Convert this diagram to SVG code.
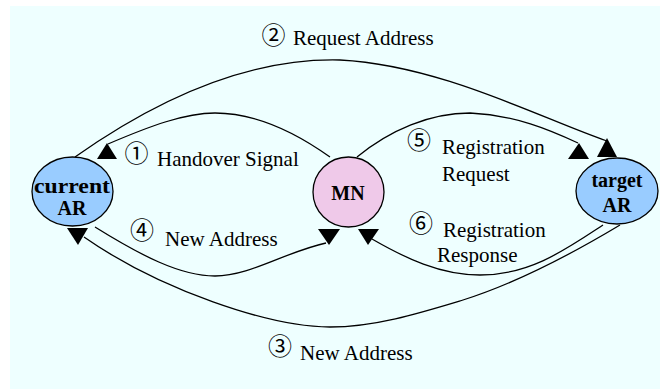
<svg xmlns="http://www.w3.org/2000/svg" width="660" height="389" viewBox="0 0 660 389">
  <style>
    .bg { fill: #EEFFFF; }
    .ar { fill: #99CCFF; stroke: #000; stroke-width: 1.3; }
    .mn { fill: #EFC9E9; stroke: #000; stroke-width: 1.3; }
    .node-text { font-family: "Liberation Serif", "Times New Roman", serif; font-weight: bold; font-size: 20px; fill: #000; text-anchor: middle; }
    .link { fill: none; stroke: #000; stroke-width: 1.3; }
    .head { fill: #000; stroke: none; }
    .label { font-family: "Liberation Serif", "Times New Roman", serif; font-size: 21px; fill: #000; }
    .step { font-family: "Noto Sans CJK JP", "DejaVu Sans", sans-serif; font-size: 24px; fill: #000; text-anchor: middle; dominant-baseline: central; }
  </style>

  <rect class="bg" x="10" y="6" width="650" height="383"/>

  <!-- message flows -->
  <g id="connectors">
    <!-- 1: MN -> current AR -->
    <path class="link" d="M330,157 C295,132 255,113 215,113 C185,113 150,126 108,144"/>
    <polygon class="head" points="97,159 117,159 107,143"/>
    <!-- 2: current AR -> target AR -->
    <path class="link" d="M75,157 C170,90 260,58 340,60 C440,65 540,118 607,141"/>
    <polygon class="head" points="597,157 617,157 607,138"/>
    <!-- 3: target AR -> current AR -->
    <path class="link" d="M620,225 C575,252 520,282 463,300 C420,313 375,327 330,327 C270,327 160,290 84,237"/>
    <polygon class="head" points="67,228 88,228 78,245"/>
    <!-- 4: current AR -> MN -->
    <path class="link" d="M95,227 C140,255 180,276 215,276 C250,276 285,252 326,243"/>
    <polygon class="head" points="318,229 340,229 329,245"/>
    <!-- 5: MN -> target AR -->
    <path class="link" d="M357,157 C390,130 430,113 470,113 C515,115 550,130 578,143"/>
    <polygon class="head" points="568,159 589,159 579,143"/>
    <!-- 6: target AR -> MN -->
    <path class="link" d="M603,225 C565,250 530,275 480,275 C440,275 405,258 372,239"/>
    <polygon class="head" points="358,229 379,229 368,245"/>
  </g>

  <g id="current-ar">
    <ellipse class="ar" cx="72.5" cy="191.5" rx="40.5" ry="34.5"/>
    <text class="node-text" x="72" y="193" textLength="76" lengthAdjust="spacingAndGlyphs">current</text>
    <text class="node-text" x="72" y="215">AR</text>
  </g>

  <g id="mn">
    <ellipse class="mn" cx="348.5" cy="192" rx="35.5" ry="35"/>
    <text class="node-text" x="348" y="200">MN</text>
  </g>

  <g id="target-ar">
    <ellipse class="ar" cx="617" cy="191" rx="41" ry="33"/>
    <text class="node-text" x="617" y="187">target</text>
    <text class="node-text" x="617" y="212">AR</text>
  </g>

  <g id="labels">
    <text class="step" x="273.5" y="33">②</text>
    <text class="label" x="293" y="45">Request Address</text>

    <text class="step" x="136.5" y="151">①</text>
    <text class="label" x="157" y="166">Handover Signal</text>

    <text class="step" x="419" y="138">⑤</text>
    <text class="label" x="442" y="154">Registration</text>
    <text class="label" x="442" y="181">Request</text>

    <text class="step" x="142" y="228">④</text>
    <text class="label" x="165" y="246">New Address</text>

    <text class="step" x="421" y="221">⑥</text>
    <text class="label" x="443" y="237">Registration</text>
    <text class="label" x="437" y="262">Response</text>

    <text class="step" x="280" y="344">③</text>
    <text class="label" x="300" y="360">New Address</text>
  </g>
</svg>
